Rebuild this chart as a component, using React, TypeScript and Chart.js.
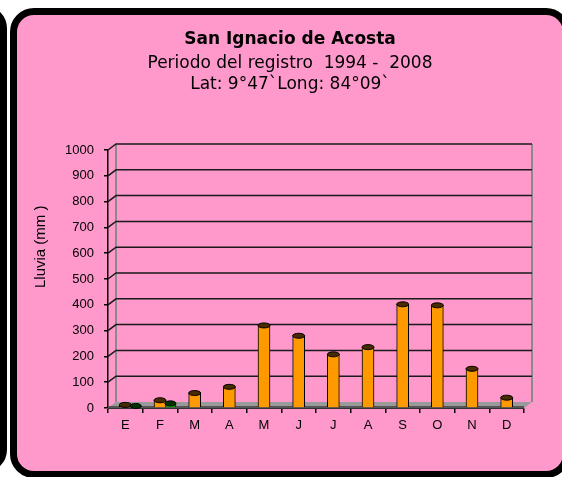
import React, { useEffect, useRef } from "react";
import { Chart, registerables } from "chart.js";

Chart.register(...registerables);

const MONTHS = ["E", "F", "M", "A", "M", "J", "J", "A", "S", "O", "N", "D"];
const RAIN_MM = [12, 30, 58, 82, 320, 280, 208, 236, 402, 398, 152, 40];
const SECOND_SERIES_MM = [8, 18, null, null, null, null, null, null, null, null, null, null];
const Y_TICK_VALUES = [0, 100, 200, 300, 400, 500, 600, 700, 800, 900, 1000];
const TITLE = "San Ignacio de Acosta";
const SUBTITLE_LINES = ["Periodo del registro  1994 -  2008", "Lat: 9°47`Long: 84°09`"];
const Y_TITLE = "Lluvia (mm )";

const SECOND_SHIFT = 0.3; // depth offset of second series inside its category
const DX = 8;
const DY = 6;

const backdropPlugin = {
  id: "backdrop3d",
  beforeDatasetsDraw(chart: any) {
    const { ctx, chartArea } = chart;
    const { left, right, top, bottom } = chartArea;
    const y = chart.scales.y;
    ctx.save();
    // back wall edges
    ctx.strokeStyle = "#8a8a8a";
    ctx.lineWidth = 2;
    ctx.beginPath();
    ctx.moveTo(left + DX, top - DY);
    ctx.lineTo(left + DX, bottom - DY);
    ctx.moveTo(right + DX, top - DY);
    ctx.lineTo(right + DX, bottom - DY);
    ctx.stroke();
    // gridlines
    ctx.strokeStyle = "#1a1a1a";
    ctx.lineWidth = 1.5;
    for (const v of Y_TICK_VALUES) {
      if (v === 0) continue;
      const py = y.getPixelForValue(v);
      ctx.beginPath();
      ctx.moveTo(left, py);
      ctx.lineTo(left + DX, py - DY);
      ctx.lineTo(right + DX, py - DY);
      ctx.stroke();
    }
    // floor
    ctx.fillStyle = "#9a9a9a";
    ctx.beginPath();
    ctx.moveTo(left, bottom);
    ctx.lineTo(right, bottom);
    ctx.lineTo(right + DX, bottom - DY);
    ctx.lineTo(left + DX, bottom - DY);
    ctx.closePath();
    ctx.fill();
    ctx.fillStyle = "#555";
    ctx.fillRect(left, bottom - 2, right - left, 2);
    // y title
    ctx.fillStyle = "#000";
    ctx.font = "15px 'Liberation Sans', Arial, sans-serif";
    ctx.textAlign = "center";
    ctx.textBaseline = "middle";
    ctx.translate(41, top + (bottom - top) * 0.375);
    ctx.rotate(-Math.PI / 2);
    ctx.fillText(Y_TITLE, 0, 0);
    ctx.restore();
  },
  afterDatasetsDraw(chart: any) {
    const { ctx } = chart;
    ctx.save();
    chart.data.datasets.forEach((ds: any, di: number) => {
      const meta = chart.getDatasetMeta(di);
      meta.data.forEach((el: any, i: number) => {
        const raw = ds.data[i];
        if (raw == null || (typeof raw === "object" && raw.y == null)) return;
        const w = el.width;
        ctx.beginPath();
        ctx.ellipse(el.x, el.y, w / 2, 2.5, 0, 0, Math.PI * 2);
        ctx.fillStyle = ds.capColor;
        ctx.fill();
        ctx.strokeStyle = "#000";
        ctx.lineWidth = 1;
        ctx.stroke();
      });
    });
    ctx.restore();
  },
};

export default function App() {
  const ref = useRef<HTMLCanvasElement | null>(null);
  useEffect(() => {
    if (!ref.current) return;
    const chart = new Chart(ref.current, {
      type: "bar",
      data: {
        labels: MONTHS,
        datasets: [
          {
            label: "Lluvia",
            data: RAIN_MM,
            backgroundColor: "#FF9900",
            borderColor: "#000",
            borderWidth: 1,
            barThickness: 12,
            grouped: false,
            xAxisID: "x",
            capColor: "#4a2a00",
          } as any,
          {
            label: "Serie 2",
            data: SECOND_SERIES_MM.map((v, i) => (v == null ? null : { x: i + SECOND_SHIFT, y: v })).filter((d) => d !== null),
            backgroundColor: "#00A000",
            borderColor: "#000",
            borderWidth: 1,
            barThickness: 11,
            grouped: false,
            xAxisID: "x2",
            capColor: "#003300",
          } as any,
        ],
      },
      options: {
        responsive: false,
        maintainAspectRatio: false,
        animation: false,
        devicePixelRatio: 1,
        layout: { padding: { left: 56, right: 38, top: 0, bottom: 0 } },
        plugins: {
          legend: { display: false },
          tooltip: { enabled: false },
          title: {
            display: true,
            text: TITLE,
            color: "#000",
            font: { family: "'DejaVu Sans', Verdana, sans-serif", size: 17, weight: "bold", lineHeight: "21px" },
            padding: { top: 29.5, bottom: 1 },
          },
          subtitle: {
            display: true,
            text: SUBTITLE_LINES,
            color: "#000",
            font: { family: "'DejaVu Sans', Verdana, sans-serif", size: 17, lineHeight: "21px" },
            padding: { top: 2, bottom: 54.5 },
          },
        },
        scales: {
          x: {
            type: "category",
            offset: true,
            grid: { display: true, drawOnChartArea: false, drawTicks: true, tickLength: 5, color: "#000", offset: true, lineWidth: 1.5 },
            border: { display: true, color: "#333", width: 1 },
            ticks: { color: "#000", font: { family: "'Liberation Sans', Arial, sans-serif", size: 13 }, padding: 5 },
            afterFit: (s: any) => {
              s.height = 69;
            },
          },
          x2: {
            type: "linear",
            display: false,
            offset: false,
            bounds: "data",
            grid: { offset: false },
            min: -0.5,
            max: MONTHS.length - 0.5,
          },
          y: {
            min: 0,
            max: 1000,
            afterBuildTicks: (s: any) => {
              s.ticks = Y_TICK_VALUES.map((v) => ({ value: v }));
            },
            grid: { display: true, drawOnChartArea: false, drawTicks: true, tickLength: 4, color: "#000", lineWidth: 1.5 },
            border: { display: true, color: "#000", width: 1.5 },
            ticks: {
              color: "#000",
              font: { family: "'Liberation Sans', Arial, sans-serif", size: 13 },
              padding: 10,
              callback: (v: any) => String(v),
            },
            afterFit: (s: any) => {
              s.width = 52;
            },
          },
        },
      },
      plugins: [backdropPlugin],
    });
    return () => chart.destroy();
  }, []);

  return (
    <div style={{ position: "fixed", left: 0, top: 0, width: 562, height: 477, overflow: "hidden", background: "#fff" }}>
      <div
        style={{
          position: "absolute",
          left: -40,
          top: 5,
          width: 47,
          height: 468,
          boxSizing: "border-box",
          border: "7px solid #000",
          borderRadius: 24,
          background: "#FF99CC",
        }}
      />
      <div
        style={{
          position: "absolute",
          left: 10,
          top: 8,
          width: 560,
          height: 470,
          boxSizing: "border-box",
          border: "7px solid #000",
          borderRadius: 24,
          background: "#FF99CC",
        }}
      />
      <canvas ref={ref} width={562} height={477} style={{ position: "absolute", left: 0, top: 0, display: "block" }} />
    </div>
  );
}
